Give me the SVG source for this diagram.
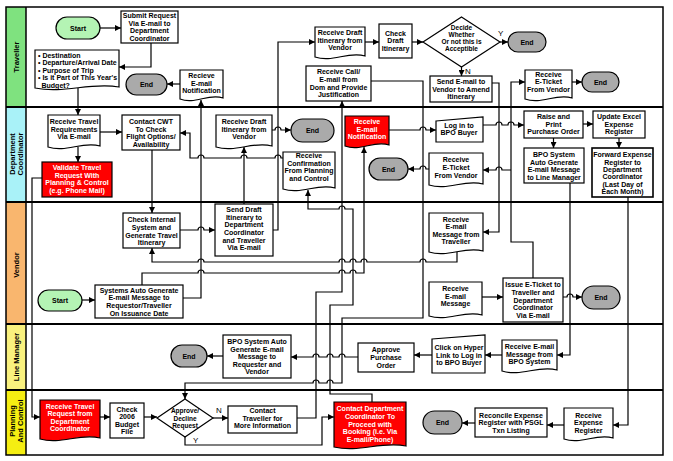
<svg xmlns="http://www.w3.org/2000/svg" width="673" height="461" viewBox="0 0 673 461">
<style>
.n{fill:#fff;stroke:#000;stroke-width:1.2}
.red{fill:#f00;stroke:#000;stroke-width:1.2}
.end{fill:#aaa;stroke:#000;stroke-width:1.2}
.st{fill:#b4f4b4;stroke:#000;stroke-width:1.2}
.t{font-family:"Liberation Sans",Arial,sans-serif;font-size:7px;font-weight:bold;text-anchor:middle;fill:#000}
.tl{font-family:"Liberation Sans",Arial,sans-serif;font-size:7px;font-weight:bold;fill:#000}
.w{fill:#fff}
.lane{font-family:"Liberation Sans",Arial,sans-serif;font-size:7.5px;font-weight:bold;text-anchor:middle;fill:#000}
.yn{font-family:"Liberation Sans",Arial,sans-serif;font-size:8px;fill:#000}
.c{fill:none;stroke:#000;stroke-width:1.2;marker-end:url(#ah)}
.sep{stroke:#000;stroke-width:2}
</style>
<defs>
<marker id="ah" viewBox="0 0 8 8" refX="8" refY="4" markerWidth="6" markerHeight="6" markerUnits="userSpaceOnUse" orient="auto"><path d="M0,0 L8,4 L0,8 Z" fill="#000"/></marker>
</defs>
<rect width="673" height="461" fill="#fff"/>
<g id="lanes">
<rect x="6" y="7" width="20" height="100" fill="#7fe27f"/>
<rect x="6" y="107" width="20" height="95" fill="#a9f2f8"/>
<rect x="6" y="202" width="20" height="122" fill="#f9b66e"/>
<rect x="6" y="324" width="20" height="66" fill="#f9f17e"/>
<rect x="6" y="390" width="20" height="65" fill="#f5ee12"/>
<rect x="6" y="7" width="657" height="448" fill="none" stroke="#000" stroke-width="1.5"/>
<line x1="26" y1="7" x2="26" y2="455" stroke="#000" stroke-width="1.5"/>
<line class="sep" x1="6" y1="107" x2="663" y2="107"/>
<line class="sep" x1="6" y1="202" x2="663" y2="202"/>
<line class="sep" x1="6" y1="324" x2="663" y2="324"/>
<line class="sep" x1="6" y1="390" x2="663" y2="390"/>
<text class="lane" transform="translate(18.7,57) rotate(-90)">Traveller</text>
<text class="lane" transform="translate(14.7,154) rotate(-90)">Department</text>
<text class="lane" transform="translate(22.7,154) rotate(-90)">Coordinator</text>
<text class="lane" transform="translate(18.7,265) rotate(-90)">Vendor</text>
<text class="lane" transform="translate(18.7,357) rotate(-90)">Line Manager</text>
<text class="lane" transform="translate(14.7,421) rotate(-90)">Planning</text>
<text class="lane" transform="translate(22.7,421) rotate(-90)">And Control</text>
</g>
<g id="connectors">
<path class="c" d="M100,28 H121"/>
<path class="c" d="M151,43 V67 H119"/>
<path class="c" d="M78,88 V115"/>
<path class="c" d="M180,84 H167"/>
<path class="c" d="M100,132 H122"/>
<path class="c" d="M78,147 V162"/>
<path class="c" d="M42,178 H32 V417 H40"/>
<path class="c" d="M152,150 V213"/>
<path class="c" d="M283,158 H281 a3,3 0 0 0 -6,0 H247 a3,3 0 0 0 -6,0 H204 a3,3 0 0 0 -6,0 H190 V133 H180"/>
<path class="c" d="M180,230 H198 a3,3 0 0 1 6,0 H215"/>
<path class="c" d="M244,204 V147"/>
<path class="c" d="M272,130 H275 a3,3 0 0 1 6,0 H291"/>
<path class="c" d="M273,230 H278 V42 H315"/>
<path class="c" d="M365,42 H379"/>
<path class="c" d="M412,42 H423"/>
<path class="c" d="M500,42 H508"/>
<path class="c" d="M461.5,67 V76"/>
<path class="c" d="M492,83 H499 V232 H483"/>
<path class="c" d="M457,252 V262 H426 a3,3 0 0 0 -6,0 H367 a3,3 0 0 0 -6,0 H356 a3,3 0 0 0 -6,0 H345 a3,3 0 0 0 -6,0 H204 a3,3 0 0 0 -6,0 H152 V248"/>
<path class="c" d="M183,298 H201 V100"/>
<path class="c" d="M142,285 V273 H198 a3,3 0 0 1 6,0 H339 a3,3 0 0 1 6,0 H350 a3,3 0 0 1 6,0 H364 V147"/>
<path class="c" d="M389,130 H420 a3,3 0 0 1 6,0 H436"/>
<path class="c" d="M483,125 H496 a3,3 0 0 1 6,0 H508 a3,3 0 0 1 6,0 H524"/>
<path class="c" d="M583,124 H593"/>
<path class="c" d="M553.5,138 V148"/>
<path class="c" d="M619,138 V148"/>
<path class="c" d="M628,197 V425 H613"/>
<path class="c" d="M570,183 V355 H557"/>
<path class="c" d="M533,278 V242 H511 V82 H525"/>
<path class="c" d="M511,170 H502 a3,3 0 0 0 -6,0 H483"/>
<path class="c" d="M429,169 H426 a3,3 0 0 0 -6,0 H408"/>
<path class="c" d="M572,82 H582"/>
<path class="c" d="M482,297 H503"/>
<path class="c" d="M563,297 H567 a3,3 0 0 1 6,0 H582"/>
<path class="c" d="M82,300 H95"/>
<path class="c" d="M502,355 H485"/>
<path class="c" d="M432,355 H414"/>
<path class="c" d="M358,357 H345 a3,3 0 0 0 -6,0 H333 a3,3 0 0 0 -6,0 H319 a3,3 0 0 0 -6,0 H291"/>
<path class="c" d="M223,356 H207"/>
<path class="c" d="M100,417 H110"/>
<path class="c" d="M144,417 H157"/>
<path class="c" d="M213,418 H228"/>
<path class="c" d="M185,437 V445 H322 V417 H334"/>
<path class="c" d="M297,418 H316 V292 H342 V101"/>
<path class="c" d="M371,81 H423 V318 H342 V383 H333 a3,3 0 0 0 -6,0 H319 a3,3 0 0 0 -6,0 H185 V399"/>
<path class="c" d="M372,402 V394 H330 V305 H353 V209 H345 a3,3 0 0 0 -6,0 H308 V190"/>
<path class="c" d="M564,425 H547"/>
<path class="c" d="M475,423 H462"/>
<text class="yn" x="498" y="36">Y</text>
<text class="yn" x="465" y="74">N</text>
<text class="yn" x="216" y="413">N</text>
<text class="yn" x="193" y="443">Y</text>
</g>
<g id="t_start"><rect class="st" x="56" y="17" width="44" height="22" rx="11"/><text class="t" x="78" y="30.5">Start</text></g>
<g id="t_submit"><rect class="n" x="121" y="11" width="57" height="32"/><text class="t"><tspan x="149.5" y="18.1">Submit Request</tspan><tspan x="149.5" y="25.7">Via E-mail to</tspan><tspan x="149.5" y="33.3">Department</tspan><tspan x="149.5" y="40.9">Coordinator</tspan></text></g>
<g id="t_bullets"><path class="n" d="M35,50 H119 V87 C89.6,82 64.4,94 35,88 Z"/><text class="tl"><tspan x="38" y="57.5">• Destination</tspan><tspan x="38" y="65.1">• Departure/Arrival Date</tspan><tspan x="38" y="72.7">• Purpose of Trip</tspan><tspan x="38" y="80.3">• Is it Part of This Year's</tspan><tspan x="41.5" y="87.9">Budget?</tspan></text></g>
<g id="t_end1"><rect class="end" x="126" y="74" width="41" height="21" rx="10.5"/><text class="t" x="146.5" y="87">End</text></g>
<g id="t_notif"><path class="n" d="M180,70 H223 V98 C208,93 195,105 180,99 Z"/><text class="t"><tspan x="201.5" y="78.2">Recieve</tspan><tspan x="201.5" y="85.8">E-mail</tspan><tspan x="201.5" y="93.4">Notification</tspan></text></g>
<g id="t_rdraft"><path class="n" d="M315,27 H365 V56 C347.5,51 332.5,63 315,57 Z"/><text class="t"><tspan x="340" y="34.9">Receive Draft</tspan><tspan x="340" y="42.5">Itinerary from</tspan><tspan x="340" y="50.1">Vendor</tspan></text></g>
<g id="t_check"><rect class="n" x="379" y="24" width="33" height="34"/><text class="t"><tspan x="395.5" y="35.7">Check</tspan><tspan x="395.5" y="43.3">Draft</tspan><tspan x="395.5" y="50.9">Itinerary</tspan></text></g>
<g id="t_decide"><path class="n" d="M461.5,17 L500,42 L461.5,67 L423,42 Z"/><text class="t" style="font-size:6.5px"><tspan x="461.5" y="30.4">Decide</tspan><tspan x="461.5" y="37.2">Whether</tspan><tspan x="461.5" y="44">Or not this is</tspan><tspan x="461.5" y="50.8">Acceptible</tspan></text></g>
<g id="t_end2"><rect class="end" x="508" y="32" width="38" height="20" rx="10"/><text class="t" x="527" y="44.5">End</text></g>
<g id="t_sendamend"><rect class="n" x="430" y="76" width="62" height="26"/><text class="t"><tspan x="461" y="84.2">Send E-mail to</tspan><tspan x="461" y="91.8">Vendor to Amend</tspan><tspan x="461" y="99.4">Itinerary</tspan></text></g>
<g id="t_call"><rect class="n" x="306" y="66" width="65" height="35"/><text class="t"><tspan x="338.5" y="74.4">Receive Call/</tspan><tspan x="338.5" y="82">E-mail from</tspan><tspan x="338.5" y="89.6">Dom and Provide</tspan><tspan x="338.5" y="97.2">Justification</tspan></text></g>
<g id="t_eticket"><path class="n" d="M525,70 H572 V98 C555.5,93 541.5,105 525,99 Z"/><text class="t"><tspan x="548.5" y="76.6">Receive</tspan><tspan x="548.5" y="84.2">E-Ticket</tspan><tspan x="548.5" y="91.8">From Vendor</tspan></text></g>
<g id="t_end3"><rect class="end" x="582" y="72" width="37" height="20" rx="10"/><text class="t" x="600.5" y="84.5">End</text></g>
<g id="d_reqs"><path class="n" d="M48,115 H100 V146 C81.8,141 66.2,153 48,147 Z"/><text class="t"><tspan x="74" y="124.2">Receive Travel</tspan><tspan x="74" y="131.8">Requirements</tspan><tspan x="74" y="139.4">Via E-mail</tspan></text></g>
<g id="d_cwt"><rect class="n" x="122" y="115" width="58" height="35"/><text class="t"><tspan x="151" y="124">Contact CWT</tspan><tspan x="151" y="131.6">To Check</tspan><tspan x="151" y="139.2">Flight Options/</tspan><tspan x="151" y="146.8">Availability</tspan></text></g>
<g id="d_validate"><rect class="red" x="42" y="162" width="70" height="35"/><text class="t w"><tspan x="77" y="170.1">Validate Travel</tspan><tspan x="77" y="177.7">Request With</tspan><tspan x="77" y="185.3">Planning &amp; Control</tspan><tspan x="77" y="192.9">(e.g. Phone Mail)</tspan></text></g>
<g id="d_rdraft"><path class="n" d="M216,115 H272 V146 C252.4,141 235.6,153 216,147 Z"/><text class="t"><tspan x="244" y="124.2">Receive Draft</tspan><tspan x="244" y="131.8">Itinerary from</tspan><tspan x="244" y="139.4">Vendor</tspan></text></g>
<g id="d_end1"><rect class="end" x="291" y="119" width="43" height="23" rx="11.5"/><text class="t" x="312.5" y="133">End</text></g>
<g id="d_confirm"><path class="n" d="M283,152 H335 V188 C316.8,183 301.2,195 283,189 Z"/><text class="t"><tspan x="309" y="158.1">Receive</tspan><tspan x="309" y="165.7">Confirmation</tspan><tspan x="309" y="173.3">From Planning</tspan><tspan x="309" y="180.9">and Control</tspan></text></g>
<g id="d_notif"><path class="red" d="M345,116 H389 V145 C373.6,140 360.4,152 345,146 Z"/><text class="t w"><tspan x="367" y="124.2">Receive</tspan><tspan x="367" y="131.8">E-mail</tspan><tspan x="367" y="139.4">Notification</tspan></text></g>
<g id="d_login"><path class="n" d="M436,121 L483,117 V142 H436 Z"/><text class="t"><tspan x="459" y="127.5">Log in to</tspan><tspan x="459" y="135.1">BPO Buyer</tspan></text></g>
<g id="d_end2"><rect class="end" x="369" y="158" width="39" height="22" rx="11"/><text class="t" x="388.5" y="171.5">End</text></g>
<g id="d_eticket"><path class="n" d="M429,153 H483 V184 C464.1,179 447.9,191 429,185 Z"/><text class="t"><tspan x="456" y="162.4">Receive</tspan><tspan x="456" y="170">E-Ticket</tspan><tspan x="456" y="177.6">From Vendor</tspan></text></g>
<g id="d_raise"><rect class="n" x="524" y="111" width="59" height="27"/><text class="t"><tspan x="553.5" y="118.9">Raise and</tspan><tspan x="553.5" y="126.5">Print</tspan><tspan x="553.5" y="134.1">Purchase Order</tspan></text></g>
<g id="d_update"><rect class="n" x="593" y="111" width="52" height="27"/><text class="t"><tspan x="619" y="118.9">Update Excel</tspan><tspan x="619" y="126.5">Expense</tspan><tspan x="619" y="134.1">Register</tspan></text></g>
<g id="d_bpo"><rect class="n" x="524" y="148" width="60" height="35"/><text class="t"><tspan x="554" y="157.1">BPO System</tspan><tspan x="554" y="164.7">Auto Generate</tspan><tspan x="554" y="172.3">E-mail Message</tspan><tspan x="554" y="179.9">to Line Manager</tspan></text></g>
<g id="d_forward"><rect class="n" x="592" y="148" width="61" height="49" style="stroke-width:1.6"/><text class="t"><tspan x="622.5" y="157.3">Forward Expense</tspan><tspan x="622.5" y="164.6">Register to</tspan><tspan x="622.5" y="171.9">Department</tspan><tspan x="622.5" y="179.2">Coordinator</tspan><tspan x="622.5" y="186.5">(Last Day of</tspan><tspan x="622.5" y="193.8">Each Month)</tspan></text></g>
<g id="v_check"><rect class="n" x="123" y="213" width="57" height="35"/><text class="t"><tspan x="151.5" y="222.4">Check Internal</tspan><tspan x="151.5" y="230">System and</tspan><tspan x="151.5" y="237.6">Generate Travel</tspan><tspan x="151.5" y="245.2">Itinerary</tspan></text></g>
<g id="v_senddraft"><rect class="n" x="215" y="204" width="58" height="52"/><text class="t"><tspan x="244" y="212.2">Send Draft</tspan><tspan x="244" y="219.8">Itinerary to</tspan><tspan x="244" y="227.4">Department</tspan><tspan x="244" y="235">Coordinator</tspan><tspan x="244" y="242.6">and Traveller</tspan><tspan x="244" y="250.2">Via E-mail</tspan></text></g>
<g id="v_rmsg_trav"><path class="n" d="M429,213 H483 V251 C464.1,246 447.9,258 429,252 Z"/><text class="t"><tspan x="456" y="221.6">Receive</tspan><tspan x="456" y="229.2">E-mail</tspan><tspan x="456" y="236.8">Message from</tspan><tspan x="456" y="244.4">Traveller</tspan></text></g>
<g id="v_start"><rect class="st" x="38" y="290" width="44" height="21" rx="10.5"/><text class="t" x="60" y="303">Start</text></g>
<g id="v_sysauto"><rect class="n" x="95" y="285" width="88" height="33"/><text class="t"><tspan x="139" y="292.7">Systems Auto Generate</tspan><tspan x="139" y="300.3">E-mail Message to</tspan><tspan x="139" y="307.9">Requestor/Traveller</tspan><tspan x="139" y="315.5">On Issuance Date</tspan></text></g>
<g id="v_rmsg"><path class="n" d="M429,282 H482 V315 C463.5,310 447.6,322 429,316 Z"/><text class="t"><tspan x="455.5" y="290.9">Receive</tspan><tspan x="455.5" y="298.5">E-mail</tspan><tspan x="455.5" y="306.1">Message</tspan></text></g>
<g id="v_issue"><rect class="n" x="503" y="278" width="60" height="44"/><text class="t"><tspan x="533" y="287.3">Issue E-Ticket to</tspan><tspan x="533" y="294.9">Traveller and</tspan><tspan x="533" y="302.5">Department</tspan><tspan x="533" y="310.1">Coordinator</tspan><tspan x="533" y="317.7">Via E-mail</tspan></text></g>
<g id="v_end"><rect class="end" x="582" y="286" width="38" height="23" rx="11.5"/><text class="t" x="601" y="300">End</text></g>
<g id="l_end"><rect class="end" x="171" y="345" width="36" height="22" rx="11"/><text class="t" x="189" y="358.5">End</text></g>
<g id="l_bpo"><rect class="n" x="223" y="335" width="68" height="43"/><text class="t"><tspan x="257" y="343.9">BPO System Auto</tspan><tspan x="257" y="351.5">Generate E-mail</tspan><tspan x="257" y="359.1">Message to</tspan><tspan x="257" y="366.7">Requester and</tspan><tspan x="257" y="374.3">Vendor</tspan></text></g>
<g id="l_approve"><rect class="n" x="358" y="343" width="56" height="29"/><text class="t"><tspan x="386" y="352.4">Approve</tspan><tspan x="386" y="360">Purchase</tspan><tspan x="386" y="367.6">Order</tspan></text></g>
<g id="l_click"><path class="n" d="M432,339 L485,335 V373 H432 Z"/><text class="t"><tspan x="459" y="349.9">Click on Hyper</tspan><tspan x="459" y="357.5">Link to Log in</tspan><tspan x="459" y="365.1">to BPO Buyer</tspan></text></g>
<g id="l_rmsg"><path class="n" d="M502,340 H557 V370 C537.8,365 521.3,377 502,371 Z"/><text class="t"><tspan x="529.5" y="348.9">Receive E-mail</tspan><tspan x="529.5" y="356.5">Message from</tspan><tspan x="529.5" y="364.1">BPO System</tspan></text></g>
<g id="p_receive"><path class="red" d="M40,400 H100 V438 C79,433 61,445 40,439 Z"/><text class="t w"><tspan x="70" y="408.6">Receive Travel</tspan><tspan x="70" y="416.2">Request from</tspan><tspan x="70" y="423.8">Department</tspan><tspan x="70" y="431.4">Coordinator</tspan></text></g>
<g id="p_check"><rect class="n" x="110" y="403" width="34" height="35"/><text class="t"><tspan x="127" y="411.6">Check</tspan><tspan x="127" y="419.2">2006</tspan><tspan x="127" y="426.8">Budget</tspan><tspan x="127" y="434.4">File</tspan></text></g>
<g id="p_diamond"><path class="n" d="M185,399 L213,418 L185,437 L157,418 Z"/><text class="t" style="font-size:6.5px"><tspan x="185" y="413.1">Approve/</tspan><tspan x="185" y="420.7">Decline</tspan><tspan x="185" y="428.3">Request</tspan></text></g>
<g id="p_contact"><rect class="n" x="228" y="406" width="69" height="27"/><text class="t"><tspan x="262.5" y="413.2">Contact</tspan><tspan x="262.5" y="420.8">Traveller for</tspan><tspan x="262.5" y="428.4">More Information</tspan></text></g>
<g id="p_contactdc"><path class="red" d="M334,402 H406 V446 C380.8,441 359.2,453 334,447 Z"/><text class="t w"><tspan x="370" y="411.3">Contact Department</tspan><tspan x="370" y="418.9">Coordinator To</tspan><tspan x="370" y="426.5">Proceed with</tspan><tspan x="370" y="434.1">Booking (i.e. Via</tspan><tspan x="370" y="441.7">E-mail/Phone)</tspan></text></g>
<g id="p_end"><rect class="end" x="423" y="411" width="39" height="23" rx="11.5"/><text class="t" x="442.5" y="424.5">End</text></g>
<g id="p_reconcile"><rect class="n" x="475" y="408" width="72" height="29"/><text class="t"><tspan x="511" y="417.7">Reconcile Expense</tspan><tspan x="511" y="425.3">Register with PSGL</tspan><tspan x="511" y="432.9">Txn Listing</tspan></text></g>
<g id="p_rexp"><path class="n" d="M564,408 H613 V438 C595.9,433 581.2,445 564,439 Z"/><text class="t"><tspan x="588.5" y="417.6">Receive</tspan><tspan x="588.5" y="425.2">Expense</tspan><tspan x="588.5" y="432.8">Register</tspan></text></g>
</svg>
